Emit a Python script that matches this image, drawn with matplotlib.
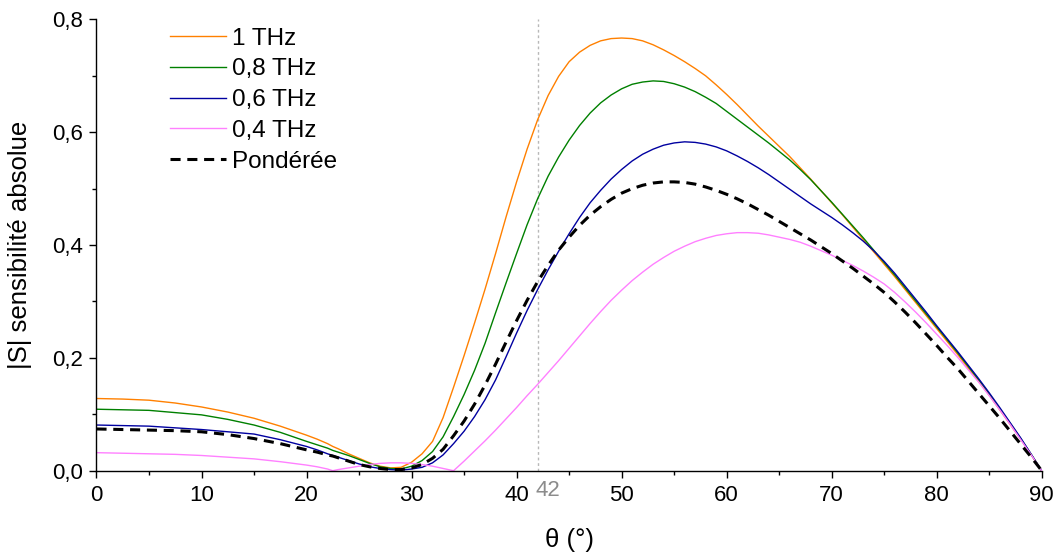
import numpy as np
import matplotlib
matplotlib.use("Agg")
import matplotlib.pyplot as plt
from matplotlib.ticker import MultipleLocator, FuncFormatter

plt.rcParams['font.family'] = ['Liberation Sans', 'DejaVu Sans']

# angle grid (deg): coarse on the flat start, 1 deg elsewhere
theta = ([0, 2.5, 5, 7.5, 10, 12.5, 15, 17.5, 20, 21, 22, 22.5, 23]
         + list(range(24, 91)))

# |S| values
s_1thz = [0.128, 0.127, 0.125, 0.120, 0.113, 0.104, 0.093, 0.079, 0.063,
          0.056, 0.048, 0.043, 0.039,
          0.030, 0.022, 0.014, 0.008, 0.005, 0.006, 0.015, 0.030, 0.052, 0.094,
          0.148, 0.204, 0.262, 0.322, 0.385, 0.450, 0.512, 0.570, 0.622, 0.665,
          0.699, 0.725, 0.742, 0.754, 0.762, 0.766, 0.767, 0.766, 0.762, 0.755,
          0.746, 0.736, 0.725, 0.713, 0.700, 0.684, 0.667, 0.649, 0.630, 0.611,
          0.593, 0.575, 0.557, 0.537, 0.517, 0.496, 0.475,
          0.454, 0.432, 0.410, 0.388, 0.366, 0.344, 0.321, 0.298, 0.275, 0.252,
          0.229, 0.206, 0.182, 0.158, 0.134, 0.108, 0.082, 0.056, 0.028, 0.0]
s_08thz = [0.109, 0.108, 0.107, 0.103, 0.099, 0.091, 0.081, 0.068, 0.052,
           0.046, 0.040, 0.036, 0.033,
           0.027, 0.020, 0.013, 0.007, 0.004, 0.003, 0.008, 0.018, 0.034, 0.060,
           0.096, 0.135, 0.178, 0.226, 0.280, 0.333, 0.385, 0.436, 0.482, 0.522,
           0.556, 0.586, 0.612, 0.634, 0.652, 0.666, 0.677, 0.685, 0.689, 0.691,
           0.690, 0.686, 0.680, 0.672, 0.662, 0.651, 0.637, 0.623, 0.609, 0.595,
           0.581, 0.566, 0.551, 0.534, 0.516, 0.496, 0.476,
           0.455, 0.434, 0.413, 0.391, 0.369, 0.347, 0.324, 0.301, 0.278, 0.255,
           0.232, 0.209, 0.185, 0.161, 0.136, 0.110, 0.084, 0.057, 0.029, 0.0]
s_06thz = [0.081, 0.080, 0.079, 0.076, 0.073, 0.069, 0.065, 0.055, 0.043,
           0.037, 0.030, 0.027, 0.024,
           0.018, 0.012, 0.007, 0.004, 0.002, 0.001, 0.003, 0.006, 0.014, 0.028,
           0.048, 0.070, 0.096, 0.126, 0.161, 0.202, 0.244, 0.284, 0.321, 0.356,
           0.389, 0.420, 0.449, 0.475, 0.497, 0.517, 0.534, 0.549, 0.561, 0.570,
           0.577, 0.581, 0.583, 0.582, 0.579, 0.574, 0.567, 0.558, 0.548, 0.537,
           0.525, 0.512, 0.499, 0.486, 0.473, 0.461, 0.449,
           0.436, 0.422, 0.407, 0.390, 0.371, 0.350, 0.327, 0.304, 0.281, 0.257,
           0.234, 0.211, 0.187, 0.163, 0.138, 0.112, 0.085, 0.058, 0.029, 0.0]
s_04thz = [0.032, 0.031, 0.030, 0.029, 0.027, 0.024, 0.021, 0.016, 0.010,
           0.007, 0.003, 0.000, 0.002,
           0.005, 0.008, 0.011, 0.013, 0.014, 0.014, 0.013, 0.011, 0.008, 0.004,
           0.000, 0.017, 0.035, 0.053, 0.072, 0.092, 0.112, 0.133, 0.153, 0.174,
           0.195, 0.217, 0.239, 0.261, 0.282, 0.302, 0.320, 0.337, 0.352, 0.366,
           0.378, 0.389, 0.398, 0.406, 0.412, 0.417, 0.420, 0.422, 0.422, 0.421,
           0.418, 0.414, 0.410, 0.405, 0.398, 0.390, 0.382,
           0.373, 0.364, 0.354, 0.343, 0.331, 0.316, 0.299, 0.281, 0.262, 0.242,
           0.222, 0.201, 0.179, 0.157, 0.133, 0.108, 0.082, 0.055, 0.028, 0.0]
s_pond = [0.074, 0.073, 0.072, 0.071, 0.069, 0.064, 0.057, 0.048, 0.037,
          0.033, 0.028, 0.026, 0.023,
          0.017, 0.011, 0.007, 0.004, 0.002, 0.002, 0.005, 0.011, 0.022, 0.038,
          0.062, 0.088, 0.118, 0.152, 0.189, 0.228, 0.266, 0.302, 0.335, 0.364,
          0.391, 0.414, 0.435, 0.453, 0.468, 0.481, 0.492, 0.500, 0.506, 0.510,
          0.512, 0.512, 0.511, 0.508, 0.503, 0.497, 0.490, 0.482, 0.473, 0.463,
          0.453, 0.442, 0.431, 0.420, 0.409, 0.397, 0.385,
          0.372, 0.359, 0.345, 0.331, 0.316, 0.299, 0.281, 0.262, 0.242, 0.222,
          0.201, 0.181, 0.159, 0.137, 0.115, 0.093, 0.070, 0.047, 0.024, 0.0]

labels = ['1 THz', '0,8 THz', '0,6 THz', '0,4 THz', 'Pondérée']
colors = ['#FF8000', '#008000', '#0000A0', '#FF80FF']
theta_mark = 42

fig = plt.figure(figsize=(10.59, 5.53), dpi=100)
ax = fig.add_axes([0.0911, 0.1488, 0.8926, 0.8161])

for s, lab, c in zip([s_1thz, s_08thz, s_06thz, s_04thz], labels[:4], colors):
    ax.plot(theta, s, color=c, lw=1.0, label=lab)
ax.plot(theta, s_pond, color='black', lw=2.2, ls=(0, (3.3, 2.2)), label=labels[4])

ax.axvline(theta_mark, color='#b8b8b8', lw=1.0, ls=(0, (2, 2)), zorder=0)
ax.annotate(str(theta_mark), xy=(theta_mark - 0.2, 0), xycoords='data',
            xytext=(0, -9.5), textcoords='offset pixels', ha='left', va='top',
            fontsize=16, color='#8c8c8c')

ax.set_xlim(0, 90)
ax.set_ylim(0, 0.8)
ax.xaxis.set_major_locator(MultipleLocator(10))
ax.xaxis.set_minor_locator(MultipleLocator(5))
ax.yaxis.set_major_locator(MultipleLocator(0.2))
ax.yaxis.set_minor_locator(MultipleLocator(0.1))
ax.yaxis.set_major_formatter(FuncFormatter(lambda v, p: f"{v:.1f}".replace('.', ',')))

for side in ['top', 'right']:
    ax.spines[side].set_visible(False)
for side in ['left', 'bottom']:
    ax.spines[side].set_linewidth(1.0)
ax.tick_params(which='major', direction='out', length=5, width=1.0, labelsize=16, pad=5)
ax.tick_params(which='minor', direction='out', length=3, width=1.0)

ax.set_xlabel('θ (°)', fontsize=18.5, labelpad=16)
ax.set_ylabel('|S| sensibilité absolue', fontsize=18.5, labelpad=14)

ax.legend(loc='upper left', bbox_to_anchor=(0.1605, 0.9500), bbox_transform=fig.transFigure,
          frameon=False, fontsize=17.5, handlelength=2.3, handletextpad=0.25,
          labelspacing=0.36, borderpad=0, borderaxespad=0)

fig.savefig('out.png', dpi=100)
